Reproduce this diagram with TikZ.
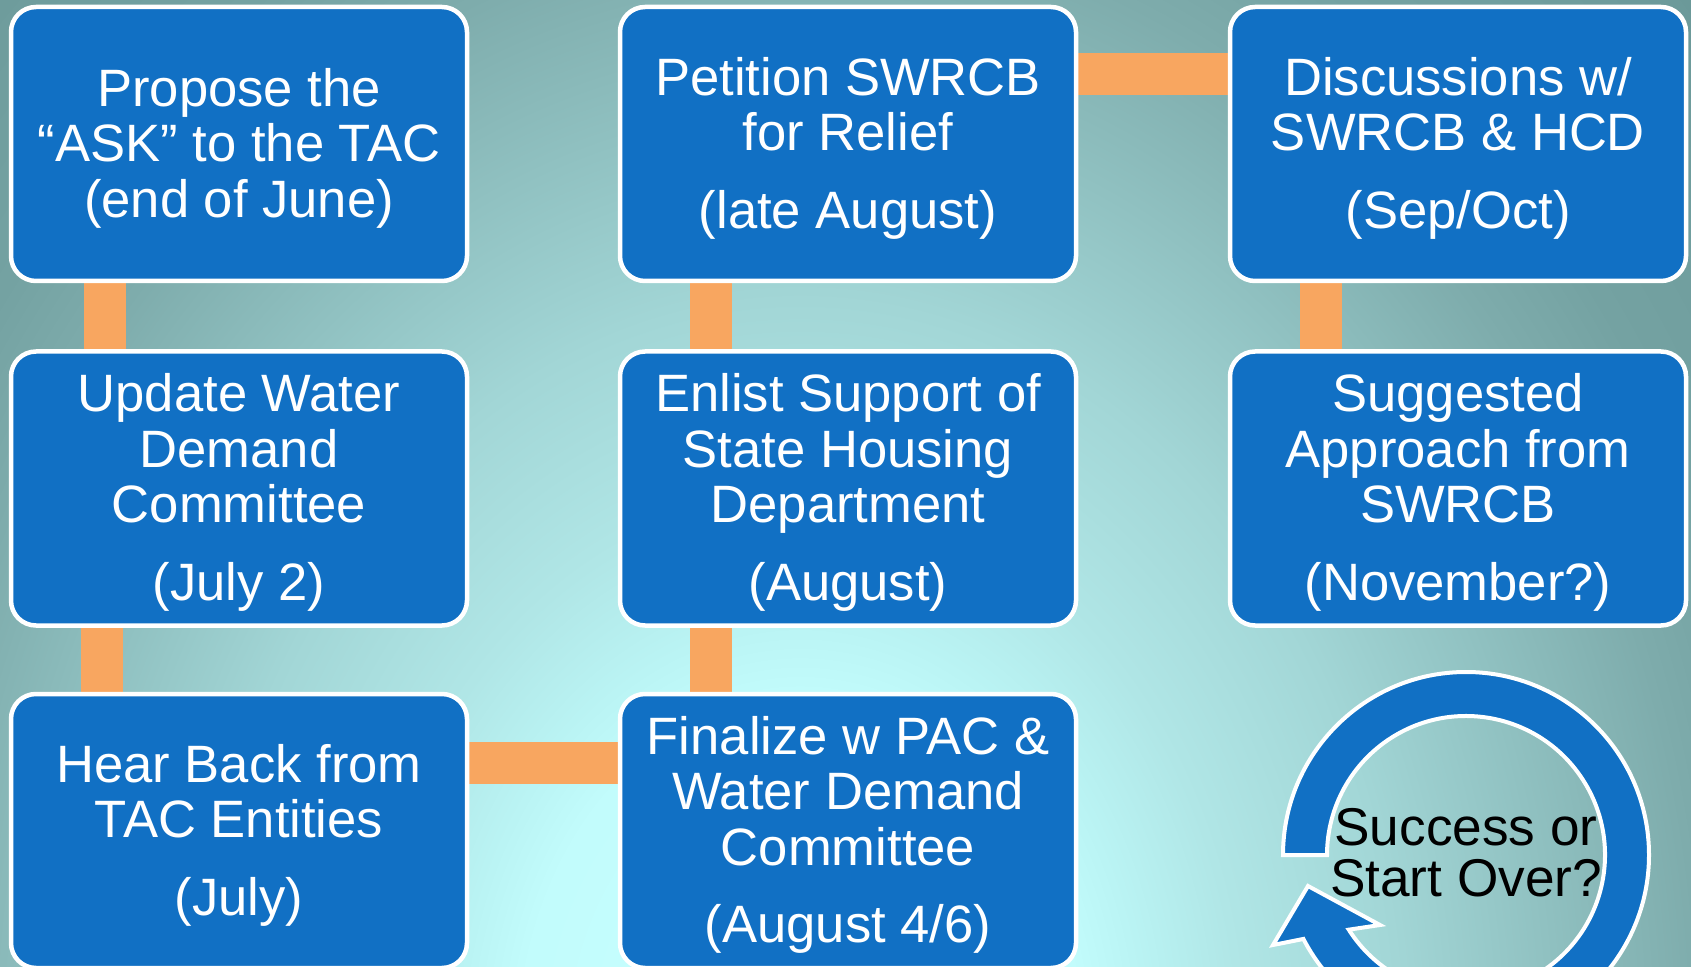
\documentclass[tikz,border=0pt]{standalone}
\usepackage{fontspec}
\setmainfont{Liberation Sans}
\usetikzlibrary{calc}
\pgfdeclarelayer{back}
\pgfsetlayers{back,main}
\definecolor{boxblue}{RGB}{17,112,196}
\definecolor{connorange}{RGB}{248,166,96}
\definecolor{bgA}{HTML}{C8FFFF}
\definecolor{bgB}{HTML}{C2FCFC}
\definecolor{bgC}{HTML}{BAF4F4}
\definecolor{bgD}{HTML}{B0E6E6}
\definecolor{bgE}{HTML}{A2D6D6}
\definecolor{bgF}{HTML}{8ABABA}
\definecolor{bgG}{HTML}{7EACAC}
\definecolor{bgH}{HTML}{74A2A2}
\definecolor{bgI}{HTML}{6E9C9C}
\definecolor{bgJ}{HTML}{6A9898}
\pgfdeclareradialshading{bgshade}{\pgfpointorigin}{color(0bp)=(bgA); color(5.6bp)=(bgB); color(6.8bp)=(bgC); color(8.8bp)=(bgD); color(12bp)=(bgE); color(16bp)=(bgF); color(18bp)=(bgG); color(20bp)=(bgH); color(23.2bp)=(bgI); color(25bp)=(bgJ); color(50bp)=(bgJ)}
\begin{document}
\begin{tikzpicture}[x=0.5pt,y=-0.5pt,
  stepbox/.style={draw=white, line width=2.25pt, fill=boxblue, rounded corners=12.5pt, minimum width=228pt, minimum height=137pt, inner sep=0pt},
  boxtext/.style={text=white, align=center, font=\fontsize{26.3}{27.75}\selectfont, inner sep=0pt},
  conn/.style={draw=connorange, line width=21pt},
  ring/.style={draw=white, line width=2pt, fill=boxblue},
  looptext/.style={text=black, align=center, font=\fontsize{26.6}{25.5}\selectfont, inner sep=0pt}]
\useasboundingbox (0,0) rectangle (1691,967);
\begin{pgfonlayer}{back}
\begin{scope}
\clip (0,0) rectangle (1691,967);
\shade[shading=bgshade] (800,1050) ellipse [x radius=1250, y radius=1562];
\end{scope}
\end{pgfonlayer}
% boxes
\node[stepbox] (b1) at (239,144) {};
\node[stepbox] (b2) at (848,144) {};
\node[stepbox] (b3) at (1458,144) {};
\node[stepbox] (b4) at (239,488.5) {};
\node[stepbox] (b5) at (848,488.5) {};
\node[stepbox] (b6) at (1458,488.5) {};
\node[stepbox] (b7) at (239,831) {};
\node[stepbox] (b8) at (848,831) {};
% texts
\node[boxtext] (t1) at ([yshift=-2pt]b1.center) {Propose the\\“ASK” to the TAC\\(end of June)};
\node[boxtext] (t2) at ([yshift=-2pt]b2.center) {Petition SWRCB\\for Relief\\[11pt](late August)};
\node[boxtext] (t3) at ([yshift=-2pt]b3.center) {Discussions w/\\SWRCB \& HCD\\[11pt](Sep/Oct)};
\node[boxtext] (t4) at ([yshift=-2pt]b4.center) {Update Water\\Demand\\Committee\\[11pt](July 2)};
\node[boxtext] (t5) at ([yshift=-2pt]b5.center) {Enlist Support of\\State Housing\\Department\\[11pt](August)};
\node[boxtext] (t6) at ([yshift=-2pt]b6.center) {Suggested\\Approach from\\SWRCB\\[11pt](November?)};
\node[boxtext] (t7) at ([yshift=-2pt]b7.center) {Hear Back from\\TAC Entities\\[11pt](July)};
\node[boxtext] (t8) at ([yshift=-2pt]b8.center) {Finalize w PAC \&\\Water Demand\\Committee\\[11pt](August 4/6)};
% connectors
\begin{pgfonlayer}{back}
\draw[conn] ([xshift=-67pt]b1.south) -- ([xshift=-67pt]b4.north);
\draw[conn] ([xshift=-68.5pt]b4.south) -- ([xshift=-68.5pt]b7.north);
\draw[conn] ([xshift=-68.5pt]b2.south) -- ([xshift=-68.5pt]b5.north);
\draw[conn] ([xshift=-68.5pt]b5.south) -- ([xshift=-68.5pt]b8.north);
\draw[conn] ([xshift=-68.5pt]b3.south) -- ([xshift=-68.5pt]b6.north);
\draw[conn] ([yshift=34.75pt]b2.east) -- ([yshift=34.75pt]b3.west);
\draw[conn] ([yshift=34.25pt]b7.east) -- ([yshift=34.25pt]b8.west);
\end{pgfonlayer}
% circular arrow
\coordinate (cc) at (1466,855);
\path[ring] ($(cc)+(-180:139)$) -- ($(cc)+(-180:183)$)
  arc[start angle=-180, end angle=152.7, radius=183]
  -- (1273,945) -- (1308,886) -- (1380,925)
  -- ($(cc)+(147.5:139)$)
  arc[start angle=147.5, end angle=-180, radius=139] -- cycle;
\node[looptext] (loop) at (1466,853) {Success or\\Start Over?};
\end{tikzpicture}
\end{document}
